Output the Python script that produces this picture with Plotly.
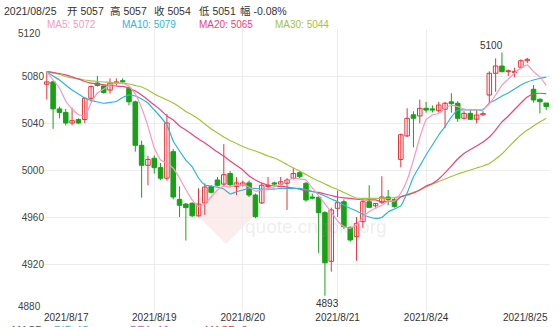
import plotly.graph_objects as go

# ---------------- data ----------------
opens = [5073, 5075, 5052, 5049, 5040, 5043, 5043, 5061, 5074, 5071.5,
         5068, 5074, 5076, 5069.5, 5058, 5021, 5004, 5010, 5002, 4993,
         5015.6, 4975, 4971, 4971.7, 4961, 4972, 4985.8, 4991.5, 4988, 4997,
         4986, 4987, 4989, 4978.7, 4972, 4986, 4989, 4988, 4988.7, 4993,
         4997.7, 4988.7, 4977, 4976.8, 4963.7, 4922.3, 4967.4, 4973, 4951.2, 4943.3,
         4956, 4973, 4969.5, 4972.5, 4977, 4975, 5009, 5029, 5047, 5046,
         5052.5, 5052, 5050.5, 5051.7, 5058, 5056.8, 5044, 5048.2, 5043.2, 5047,
         5063.8, 5082.3, 5088.5, 5083.7, 5083, 5087.4, 5093, 5068.7, 5060.2, 5057]
closes = [5075, 5052, 5049, 5040, 5042, 5040, 5061, 5071, 5072, 5066,
          5074, 5075, 5075, 5058, 5021, 5004, 5009, 5002, 4993, 5040,
          4977, 4970, 4968, 4961, 4971, 4985.5, 4981, 4987, 4996, 4987.5,
          4989, 4989, 4978.7, 4960.3, 4987, 4987, 4988, 4990, 4991.5, 4997,
          4994.3, 4974.5, 4976, 4963.7, 4921, 4966, 4972.2, 4951.8, 4940.4, 4954.7,
          4973, 4968.2, 4971.5, 4977, 4975, 4968.8, 5030, 5044, 5044, 5052.5,
          5051, 5051, 5055.3, 5056.8, 5056.5, 5044, 5048.2, 5043.2, 5046.8, 5048,
          5082.3, 5088.5, 5083.7, 5084.5, 5084, 5093, 5094.2, 5059.6, 5058.1, 5054]
highs = [5084, 5076, 5054, 5052, 5053, 5044, 5062, 5072, 5080, 5072,
         5078, 5078, 5078, 5071, 5059, 5025, 5012, 5012.5, 5006, 5047.7,
         5018, 4986, 4972, 4972.5, 4984.4, 4988.7, 4987, 4994, 5022, 4999,
         4994, 4991, 4991, 4980, 4989, 4994, 4990, 4994, 4993, 5002,
         4999, 4990, 4980, 4977.5, 4965, 4968, 4982.4, 4975, 4952, 4960,
         4974, 4987, 4972, 4994.7, 4983, 4976, 5031, 5052.5, 5050, 5060,
         5058, 5055, 5058, 5058, 5065.3, 5058.5, 5050, 5052, 5051.7, 5050,
         5084, 5095, 5100, 5085.5, 5087, 5094.2, 5095.5, 5072.3, 5061, 5057]
lows = [5060, 5035, 5044, 5038, 5038, 5039, 5040, 5058, 5071, 5065,
        5065, 5072, 5073, 5055, 5015.6, 4976.4, 4987, 4997, 4991.5, 4991,
        4975, 4960, 4940, 4960, 4960.3, 4961.7, 4980, 4986, 4986, 4986,
        4978.7, 4986, 4977, 4959, 4971, 4984.4, 4987, 4987, 4966, 4992,
        4993, 4973, 4975, 4929.4, 4893, 4913.5, 4960, 4950, 4939, 4922.8,
        4950.5, 4968, 4968, 4971, 4970, 4968, 5002.3, 5028, 5019.3, 5039.7,
        5048.8, 5049, 5049, 5035.5, 5048.8, 5041, 5043, 5042.5, 5039.7, 5046,
        5056.8, 5066.6, 5083, 5080, 5079, 5086, 5091, 5057.3, 5048.2, 5051]

ma5 = [5083.7, 5076.6, 5069.8, 5058.7, 5051.9, 5047.2, 5046.0, 5057.0, 5065.5, 5068.9,
       5072.3, 5073.6, 5073.8, 5071.5, 5064.7, 5052.8, 5037.4, 5018.7, 5008.5, 5005.7,
       5001.5, 4993.2, 4983.4, 4974.5, 4969.0, 4971.5, 4977.0, 4983.0, 4986.4, 4985.5,
       4987.2, 4987.2, 4985.5, 4982.1, 4983.0, 4984.3, 4985.5, 4988.1, 4990.6, 4993.2,
       4992.3, 4991.5, 4984.7, 4977.9, 4971.1, 4964.3, 4956.6, 4951.9, 4950.4, 4953.2,
       4960.0, 4964.5, 4967.4, 4969.8, 4973.6, 4973.6, 4980.4, 4991.5, 5008.5, 5027.7,
       5042.6, 5046.8, 5048.1, 5052.8, 5054.9, 5054.0, 5051.9, 5051.1, 5051.1, 5051.9,
       5056.2, 5063.8, 5072.3, 5077.4, 5082.6, 5086.8, 5089.4, 5083.7, 5079.2, 5072.0]
ma10 = [5083.7, 5080.0, 5076.6, 5072.3, 5068.1, 5064.7, 5061.3, 5059.2, 5057.9, 5056.8,
        5057.5, 5058.3, 5061.7, 5063.8, 5063.0, 5060.4, 5057.0, 5051.1, 5045.1, 5038.3,
        5024.7, 5016.2, 5008.5, 5002.6, 4993.2, 4987.2, 4986.4, 4985.3, 4983.8, 4979.6,
        4981.5, 4983.0, 4984.3, 4984.4, 4983.8, 4983.6, 4983.8, 4984.3, 4984.4, 4984.4,
        4984.3, 4983.4, 4981.7, 4980.0, 4977.9, 4975.3, 4973.0, 4970.2, 4967.4, 4965.1,
        4962.1, 4960.0, 4958.9, 4959.6, 4964.3, 4966.8, 4969.4, 4980.4, 4994.1, 5003.4,
        5012.8, 5021.3, 5029.8, 5037.0, 5045.1, 5051.1, 5051.1, 5051.1, 5051.1, 5051.1,
        5057.0, 5059.6, 5063.0, 5065.5, 5068.9, 5072.3, 5074.9, 5076.6, 5077.9, 5079.0]
ma20 = [5083.7, 5083.0, 5082.1, 5080.9, 5079.2, 5077.5, 5075.3, 5074.0, 5073.2, 5072.5,
        5071.9, 5071.5, 5071.1, 5069.8, 5067.2, 5063.8, 5059.6, 5055.3, 5051.1, 5046.0,
        5042.6, 5037.5, 5034.0, 5030.2, 5026.4, 5023.0, 5019.2, 5015.3, 5011.9, 5007.7,
        5003.8, 5000.0, 4994.9, 4991.5, 4988.9, 4987.2, 4986.4, 4986.0, 4985.5, 4984.7,
        4983.6, 4982.5, 4981.7, 4980.9, 4979.6, 4978.3, 4977.0, 4976.2, 4975.8, 4975.1,
        4974.5, 4974.5, 4974.5, 4972.8, 4973.6, 4973.0, 4977.0, 4978.7, 4980.4, 4983.0,
        4986.4, 4988.5, 4992.3, 4997.5, 5003.4, 5009.4, 5014.1, 5017.5, 5020.4, 5023.8,
        5028.1, 5034.0, 5040.9, 5046.0, 5051.5, 5057.0, 5062.1, 5064.7, 5065.3, 5065.0]
ma30 = [5083.7, 5082.6, 5081.3, 5079.6, 5078.3, 5077.5, 5076.6, 5075.9, 5075.3, 5074.9,
        5074.5, 5074.0, 5073.8, 5073.2, 5071.9, 5070.6, 5068.1, 5064.7, 5062.1, 5059.6,
        5057.0, 5053.6, 5049.8, 5046.8, 5043.4, 5039.2, 5034.9, 5031.5, 5028.1, 5025.1,
        5022.6, 5020.0, 5017.9, 5016.2, 5014.1, 5011.9, 5010.2, 5007.7, 5004.7, 5001.7,
        4999.2, 4996.2, 4993.2, 4990.6, 4988.1, 4985.5, 4983.4, 4980.9, 4978.3, 4976.2,
        4975.9, 4975.9, 4975.9, 4975.8, 4975.9, 4976.6, 4977.5, 4979.2, 4980.9, 4983.0,
        4985.5, 4988.1, 4990.2, 4992.3, 4994.5, 4996.6, 4998.3, 5000.0, 5001.7, 5003.4,
        5005.5, 5009.4, 5013.6, 5019.2, 5024.7, 5029.8, 5034.0, 5037.5, 5040.9, 5044.0]

tick_idx = [17, 31, 46, 60]
tick_labels = ["2021/8/19", "2021/8/20", "2021/8/21", "2021/8/24"]
first_label, last_label = "2021/8/17", "2021/8/25"
y_ticks = [4880, 4920, 4960, 5000, 5040, 5080, 5120]

header = [("2021/08/25", 1.7), ("开 5057", 65), ("高 5057", 108.3),
          ("收 5054", 151.7), ("低 5051", 196.7), ("幅 -0.08%", 238.3)]
ma_legend = [("MA5: 5072", 45, "#f49ac1"), ("MA10: 5079", 120, "#2fb6d6"),
             ("MA20: 5065", 196.7, "#e8457c"), ("MA30: 5044", 273.3, "#a7c23a")]
macd_legend = [("MACD", 10, "#555555"), ("DIF: 15", 52, "#2fb6e0"),
               ("DEA: 10", 128, "#d84bb5"), ("MACD: 8", 203, "#e0303a")]

# ---------------- layout helpers ----------------
W, H = 559, 327
ML, MR, MT, MB = 43, 9, 29, 16
PW, PH = W - ML - MR, H - MT - MB


def px(x):
    return (x - ML) / PW


def py(y):
    return (H - MB - y) / PH


RED = "#e3343a"
GREEN = "#16a316"
FONT = "Liberation Sans, Arial, Noto Sans CJK SC, sans-serif"
n = len(opens)
idx = list(range(n))
up = [c >= o for o, c in zip(opens, closes)]

fig = go.Figure()

# wicks
for color, cond in [(RED, True), (GREEN, False)]:
    xs, ys = [], []
    for i in idx:
        if up[i] == cond:
            xs += [i, i, None]
            ys += [lows[i], highs[i], None]
    fig.add_trace(go.Scatter(x=xs, y=ys, mode="lines", line=dict(color=color, width=1),
                             hoverinfo="skip", showlegend=False))

# bodies
base = [min(o, c) for o, c in zip(opens, closes)]
height = [max(abs(c - o), 0.6) for o, c in zip(opens, closes)]
fig.add_trace(go.Bar(x=idx, y=height, base=base, width=0.72,
                     marker=dict(color=["white" if u else GREEN for u in up],
                                 line=dict(color=[RED if u else GREEN for u in up], width=1)),
                     hoverinfo="skip", showlegend=False))

# moving averages
for vals, col in [(ma30, "#a7c23a"), (ma20, "#e8457c"), (ma10, "#2fb6d6"), (ma5, "#f49ac1")]:
    fig.add_trace(go.Scatter(x=idx, y=vals, mode="lines",
                             line=dict(color=col, width=1.2, shape="spline", smoothing=0.4),
                             hoverinfo="skip", showlegend=False))

ann = []
for txt, x in header:
    ann.append(dict(text=txt, x=px(x), y=py(11), xref="paper", yref="paper", xanchor="left",
                    yanchor="middle", showarrow=False, font=dict(size=10.5, color="#333333", family=FONT)))
for txt, x, col in ma_legend:
    ann.append(dict(text=txt, x=px(x), y=py(24), xref="paper", yref="paper", xanchor="left",
                    yanchor="middle", showarrow=False, font=dict(size=10, color=col, family=FONT)))
for txt, x, col in macd_legend:
    ann.append(dict(text=txt, x=px(x), y=py(321.5), xref="paper", yref="paper", xanchor="left",
                    yanchor="top", showarrow=False, font=dict(size=10.5, color=col, family=FONT)))
# edge y labels
ann.append(dict(text=str(y_ticks[-1]), x=px(43), y=py(34), xref="paper", yref="paper", xanchor="right",
                yanchor="middle", showarrow=False, font=dict(size=10, color="#444444", family=FONT)))
ann.append(dict(text=str(y_ticks[0]), x=px(43), y=py(306), xref="paper", yref="paper", xanchor="right",
                yanchor="middle", showarrow=False, font=dict(size=10, color="#444444", family=FONT)))
# edge x labels
ann.append(dict(text=first_label, x=px(42), y=py(317), xref="paper", yref="paper", xanchor="left",
                yanchor="middle", showarrow=False, font=dict(size=10, color="#333333", family=FONT)))
ann.append(dict(text=last_label, x=px(550), y=py(317), xref="paper", yref="paper", xanchor="right",
                yanchor="middle", showarrow=False, font=dict(size=10, color="#333333", family=FONT)))
# extremes
imax = max(idx, key=lambda i: highs[i])
imin = min(idx, key=lambda i: lows[i])
ann.append(dict(text=f"{highs[imax]:.0f}", x=imax, y=highs[imax], xref="x", yref="y", xanchor="right",
                yanchor="bottom", yshift=0, xshift=3, showarrow=False,
                font=dict(size=10, color="#333333", family=FONT)))
ann.append(dict(text=f"{lows[imin]:.0f}", x=imin, y=lows[imin], xref="x", yref="y", xanchor="center",
                yanchor="top", yshift=0, xshift=3, showarrow=False,
                font=dict(size=10, color="#333333", family=FONT)))
# watermark
ann.append(dict(text="quote.cngold.org", x=px(243), y=py(226), xref="paper", yref="paper", xanchor="left",
                yanchor="middle", showarrow=False, font=dict(size=19, color="rgba(150,150,150,0.18)", family=FONT)))
ann.append(dict(text="金投行情", x=px(236), y=py(183), xref="paper", yref="paper", xanchor="left",
                yanchor="middle", showarrow=False,
                font=dict(size=16, color="rgba(225,120,120,0.13)", family="Noto Sans CJK SC")))

shapes = [dict(type="path", xref="paper", yref="paper", layer="below",
               path=f"M {px(226)} {py(172)} L {px(262)} {py(208)} L {px(226)} {py(244)} L {px(190)} {py(208)} Z",
               fillcolor="rgba(230,110,110,0.12)", line=dict(width=0))]

fig.update_layout(
    width=W, height=H, margin=dict(l=ML, r=MR, t=MT, b=MB, autoexpand=False),
    paper_bgcolor="white", plot_bgcolor="white", barmode="overlay", showlegend=False,
    annotations=ann, shapes=shapes,
    xaxis=dict(range=[-0.6, n - 0.4], tickmode="array", tickvals=tick_idx, ticktext=tick_labels,
               showgrid=True, gridcolor="#ececec", gridwidth=1, zeroline=False, showline=False,
               automargin=False, ticks="", ticklabelstandoff=-1,
               tickfont=dict(size=10, color="#333333", family=FONT), fixedrange=True),
    yaxis=dict(range=[y_ticks[0], y_ticks[-1]], tickmode="array", tickvals=y_ticks,
               ticktext=[""] + [str(v) for v in y_ticks[1:-1]] + [""],
               showgrid=True, gridcolor="#ececec", gridwidth=1, zeroline=False, showline=False,
               automargin=False, ticks="", ticklabelstandoff=-2,
               tickfont=dict(size=10, color="#444444", family=FONT), fixedrange=True),
)

fig.write_html("out.html")
